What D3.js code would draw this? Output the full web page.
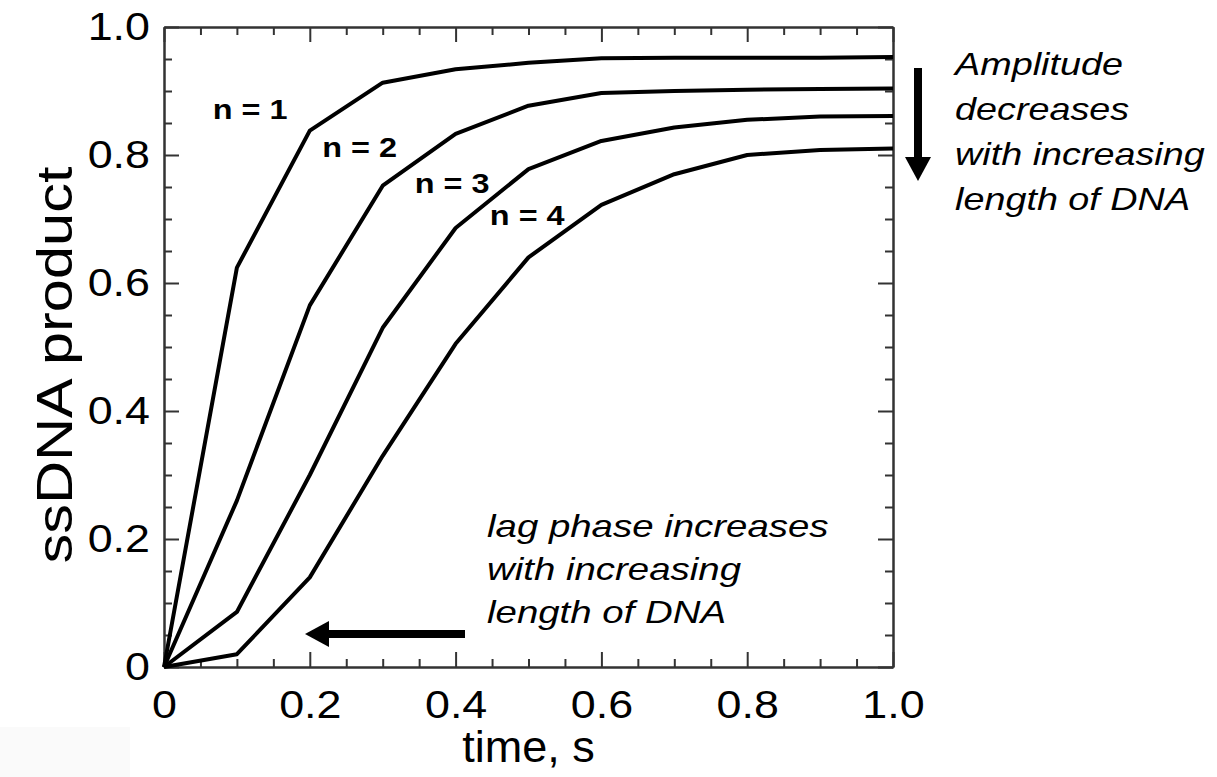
<!DOCTYPE html>
<html>
<head>
<meta charset="utf-8">
<script src="https://cdn.jsdelivr.net/npm/d3@7"></script>
<style>
  body { margin: 0; background: #fff; }
  text { font-family: "Liberation Sans", Arial, sans-serif; fill: #000; }
</style>
</head>
<body>
<svg width="1217" height="777"></svg>
<script>
// data
const times = [0, 0.1, 0.2, 0.3, 0.4, 0.5, 0.6, 0.7, 0.8, 0.9, 1.0]
const n1 = [0, 0.624, 0.838, 0.913, 0.934, 0.944, 0.951, 0.952, 0.952, 0.952, 0.953]
const n2 = [0, 0.26, 0.565, 0.752, 0.833, 0.877, 0.897, 0.900, 0.902, 0.903, 0.904]
const n3 = [0, 0.086, 0.30, 0.53, 0.686, 0.778, 0.822, 0.843, 0.855, 0.860, 0.861]
const n4 = [0, 0.02, 0.14, 0.33, 0.505, 0.64, 0.722, 0.77, 0.80, 0.808, 0.81]
const seriesNames = ["n = 1", "n = 2", "n = 3", "n = 4"]
const xTicks = [0, 0.2, 0.4, 0.6, 0.8, 1.0]
const yTicks = [0, 0.2, 0.4, 0.6, 0.8, 1.0]
const minorStep = 0.05
const xTitle = "time, s"
const yTitle = "ssDNA product"
const noteTop = ["Amplitude", "decreases", "with increasing", "length of DNA"]
const noteBottom = ["lag phase increases", "with increasing", "length of DNA"]

const svg = d3.select("svg")

// the picture is a bit wider than tall, so glyphs get stretched sideways
const stretch = (sel, k) => sel.each(function () {
  const w = this.getComputedTextLength()
  d3.select(this).attr("textLength", w * k).attr("lengthAdjust", "spacingAndGlyphs")
})

// faint grey patch bottom left
svg.append("rect")
  .attr("x", 0).attr("y", 727).attr("width", 130).attr("height", 50)
  .attr("fill", "#fafafa")

// scales
const x = d3.scaleLinear().domain([0, 1]).range([164, 893])
const y = d3.scaleLinear().domain([0, 1]).range([667, 27])

const minor = d3.range(0, 1 + 1e-9, minorStep).filter(v => !xTicks.some(t => Math.abs(t - v) < 1e-9))
const fmt = d => d === 0 ? "0" : d3.format(".1f")(d)

const styleAxis = g => {
  g.select(".domain").attr("stroke", "#333").attr("stroke-width", 2)
  g.selectAll(".tick line").attr("stroke", "#333").attr("stroke-width", 2)
}

// bottom axis, ticks pointing inward
svg.append("g").attr("transform", `translate(0,${y(0)})`)
  .call(d3.axisBottom(x).tickValues(minor).tickSize(-8).tickSizeOuter(0).tickFormat(""))
  .call(styleAxis)
const xAxis = svg.append("g").attr("transform", `translate(0,${y(0)})`)
  .call(d3.axisBottom(x).tickValues(xTicks).tickSize(-15).tickSizeOuter(0).tickPadding(24).tickFormat(fmt))
  .call(styleAxis)

// top axis
svg.append("g").attr("transform", `translate(0,${y(1)})`)
  .call(d3.axisTop(x).tickValues(minor).tickSize(-8).tickSizeOuter(0).tickFormat(""))
  .call(styleAxis)
svg.append("g").attr("transform", `translate(0,${y(1)})`)
  .call(d3.axisTop(x).tickValues(xTicks).tickSize(-15).tickSizeOuter(0).tickFormat(""))
  .call(styleAxis)

// left axis
svg.append("g").attr("transform", `translate(${x(0)},0)`)
  .call(d3.axisLeft(y).tickValues(minor).tickSize(-8).tickSizeOuter(0).tickFormat(""))
  .call(styleAxis)
const yAxis = svg.append("g").attr("transform", `translate(${x(0)},0)`)
  .call(d3.axisLeft(y).tickValues(yTicks).tickSize(-15).tickSizeOuter(0).tickPadding(14).tickFormat(fmt))
  .call(styleAxis)

// right axis
svg.append("g").attr("transform", `translate(${x(1)},0)`)
  .call(d3.axisRight(y).tickValues(minor).tickSize(-8).tickSizeOuter(0).tickFormat(""))
  .call(styleAxis)
svg.append("g").attr("transform", `translate(${x(1)},0)`)
  .call(d3.axisRight(y).tickValues(yTicks).tickSize(-15).tickSizeOuter(0).tickFormat(""))
  .call(styleAxis)

// tick label fonts
xAxis.selectAll(".tick text").attr("font-size", 38).attr("font-family", null).call(stretch, 1.18)
yAxis.selectAll(".tick text").attr("font-size", 38).attr("font-family", null).call(stretch, 1.18)

// axis titles
svg.append("text")
  .attr("x", (x(0) + x(1)) / 2).attr("y", 762)
  .attr("text-anchor", "middle")
  .attr("font-size", 45)
  .text(xTitle)

svg.append("text")
  .attr("transform", `translate(72,${(y(0) + y(1)) / 2 + 18}) rotate(-90)`)
  .attr("text-anchor", "middle")
  .attr("font-size", 50)
  .text(yTitle)
  .call(stretch, 1.19)

// curves
const line = d3.line()
  .x((d, i) => x(times[i]))
  .y(d => y(d))

svg.selectAll("path.curve")
  .data([n1, n2, n3, n4])
  .enter()
  .append("path")
  .attr("class", "curve")
  .attr("d", line)
  .attr("fill", "none")
  .attr("stroke", "#000")
  .attr("stroke-width", 4)
  .attr("stroke-linejoin", "round")

// curve labels, anchored in data units
const labelAt = [[0.067, 0.856], [0.217, 0.797], [0.344, 0.741], [0.447, 0.69]]
svg.selectAll("text.nlabel")
  .data(seriesNames)
  .enter()
  .append("text")
  .attr("class", "nlabel")
  .attr("x", (d, i) => x(labelAt[i][0]))
  .attr("y", (d, i) => y(labelAt[i][1]))
  .attr("font-size", 27)
  .attr("font-weight", "bold")
  .text(d => d)
  .call(stretch, 1.2)

// notes
svg.selectAll("text.ntop")
  .data(noteTop)
  .enter()
  .append("text")
  .attr("class", "ntop")
  .attr("x", 955)
  .attr("y", (d, i) => 75 + i * 45)
  .attr("font-size", 32)
  .attr("font-style", "italic")
  .text(d => d)
  .call(stretch, 1.18)

svg.selectAll("text.nbot")
  .data(noteBottom)
  .enter()
  .append("text")
  .attr("class", "nbot")
  .attr("x", 487)
  .attr("y", (d, i) => 537 + i * 43)
  .attr("font-size", 32)
  .attr("font-style", "italic")
  .text(d => d)
  .call(stretch, 1.2)

// arrows
svg.append("rect").attr("x", 914).attr("y", 68).attr("width", 8).attr("height", 92).attr("fill", "#000")
svg.append("path").attr("d", "M905,157 L931,157 L918,181 Z").attr("fill", "#000")

svg.append("rect").attr("x", 326).attr("y", 630).attr("width", 139).attr("height", 8).attr("fill", "#000")
svg.append("path").attr("d", "M329,621 L329,647 L305,634 Z").attr("fill", "#000")
</script>
</body>
</html>
